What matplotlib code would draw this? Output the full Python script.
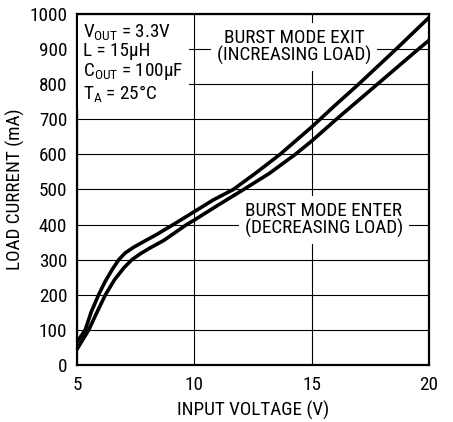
import matplotlib
matplotlib.use("Agg")
import matplotlib.pyplot as plt

plt.rcParams['font.family'] = ['Roboto Condensed', 'Liberation Sans', 'DejaVu Sans']
plt.rcParams['font.size'] = 13.8

# input voltage (V) vs load current (mA)
exit_v = [5.0, 5.35, 5.6, 5.92, 6.2, 6.5, 6.78, 7.05, 7.4, 7.8, 8.4, 9.1, 10.0, 10.8, 11.66, 12.6,
          13.65, 15.0, 16.0, 17.0, 18.6, 20.0]
exit_ma = [65, 100, 150, 200, 238, 272, 300, 319, 335, 350, 372, 400, 437, 470, 500, 546,
           600, 678, 740, 800, 900, 990]

enter_v = [5.0, 5.5, 5.85, 6.21, 6.6, 7.0, 7.34, 7.7, 8.1, 8.7, 9.67, 10.0, 11.0, 12.1, 13.2,
           14.3, 15.0, 16.05, 17.8, 19.55, 20.0]
enter_ma = [45, 100, 150, 200, 243, 277, 300, 317, 333, 355, 400, 413, 455, 500, 546,
            600, 638, 700, 800, 900, 925]

x_ticks = [5, 10, 15, 20]
y_ticks = [0, 100, 200, 300, 400, 500, 600, 700, 800, 900, 1000]

fig = plt.figure(figsize=(4.53, 4.22), dpi=100)
ax = fig.add_axes([77 / 453, 1 - 365 / 422, 352 / 453, 351 / 422])

ax.plot(exit_v, exit_ma, color='black', lw=2.6, zorder=4, solid_joinstyle='round')
ax.plot(enter_v, enter_ma, color='black', lw=2.6, zorder=4, solid_joinstyle='round')

ax.set_xlim(5, 20)
ax.set_ylim(0, 1000)
ax.set_xticks(x_ticks)
ax.set_yticks(y_ticks)
ax.tick_params(length=0)
ax.tick_params(axis='y', pad=7)
ax.tick_params(axis='x', pad=8)
ax.set_axisbelow(True)
ax.grid(True, color='black', lw=0.8, zorder=0)
for s in ax.spines.values():
    s.set_linewidth(1.6)

ax.set_xlabel('INPUT VOLTAGE (V)', labelpad=5)
ax.set_ylabel('LOAD CURRENT (mA)', labelpad=3)

box = dict(boxstyle='square,pad=0.3', fc='white', ec='none')
params = ('$\\mathregular{V_{OUT}}$ = 3.3V\n'
          'L = 15µH\n'
          '$\\mathregular{C_{OUT}}$ = 100µF\n'
          '$\\mathregular{T_A}$ = 25°C')
ax.text(0.018, 0.978, params, transform=ax.transAxes, ha='left', va='top',
        linespacing=1.04, zorder=3, bbox=box)

ax.text(14.25, 906, 'BURST MODE EXIT\n(INCREASING LOAD)', ha='center', va='center',
        linespacing=0.95, zorder=3, bbox=box)
ax.text(15.52, 413, 'BURST MODE ENTER\n(DECREASING LOAD)', ha='center', va='center',
        linespacing=0.95, zorder=3, bbox=box)

fig.savefig('out.png', dpi=100)
